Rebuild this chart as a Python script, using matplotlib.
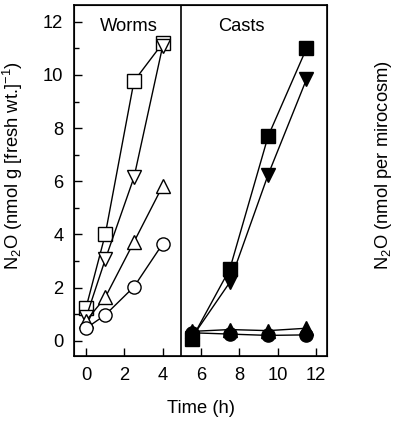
import matplotlib
matplotlib.use("Agg")
import matplotlib.pyplot as plt
from matplotlib.ticker import MultipleLocator

plt.rcParams['font.family'] = ['Liberation Sans', 'DejaVu Sans']
plt.rcParams['mathtext.fontset'] = 'custom'
plt.rcParams['mathtext.rm'] = 'Liberation Sans'

# worms (open symbols), time in h
worm_t = [0, 1, 2.5, 4]
worm_square = [1.25, 4.0, 9.77, 11.2]
worm_down = [0.88, 3.06, 6.15, 11.1]
worm_up = [0.75, 1.63, 3.72, 5.83]
worm_circle = [0.47, 0.97, 2.03, 3.65]

# casts (filled symbols)
cast_t = [5.5, 7.5, 9.5, 11.5]
cast_square = [0.05, 2.7, 7.7, 11.0]
cast_down = [0.1, 2.2, 6.25, 9.84]
cast_up = [0.35, 0.42, 0.38, 0.47]
cast_circle = [0.3, 0.25, 0.2, 0.22]

fs = 13.2

fig = plt.figure(figsize=(4.0, 4.26), dpi=100)
ax = fig.add_axes([0.186, 0.164, 0.6315, 0.824])

mk = dict(color='black', lw=1.0, ms=9.5, mew=1.0)
for ys, m in [(worm_square, 's'), (worm_down, 'v'), (worm_up, '^'), (worm_circle, 'o')]:
    ax.plot(worm_t, ys, marker=m, mfc='white', mec='black', **mk)
for ys, m in [(cast_square, 's'), (cast_down, 'v'), (cast_up, '^'), (cast_circle, 'o')]:
    ax.plot(cast_t, ys, marker=m, mfc='black', mec='black', **mk)

ax.axvline(4.94, color='black', lw=1.2)

ax.set_xlim(-0.61, 12.57)
ax.set_ylim(-0.58, 12.63)
ax.set_xticks(range(0, 13, 2))
ax.yaxis.set_major_locator(MultipleLocator(2))
ax.yaxis.set_minor_locator(MultipleLocator(1))
ax.tick_params(which='both', direction='in', labelsize=fs, width=1)
ax.tick_params(which='major', length=5.5, pad=8)
ax.tick_params(axis='y', which='minor', length=3.4)
ax.tick_params(axis='y', which='both', right=True, labelright=True)
for s in ax.spines.values():
    s.set_linewidth(1.2)

ax.set_xlabel('Time (h)', fontsize=fs, labelpad=11)
ax.set_ylabel(r'N$_2$O (nmol g [fresh wt.]$^{-1}$)', fontsize=fs)
ax.yaxis.set_label_coords(-0.195, 0.544)

ax2 = ax.twinx()
ax2.set_ylim(ax.get_ylim())
ax2.set_yticks([])
ax2.set_ylabel(r'N$_2$O (nmol per mirocosm)', fontsize=fs)
ax2.yaxis.set_label_coords(1.182, 0.544)

ax.text(2.24, 11.84, 'Worms', fontsize=fs, ha='center', va='center')
ax.text(8.09, 11.84, 'Casts', fontsize=fs, ha='center', va='center')

fig.savefig('out.png', dpi=100)
